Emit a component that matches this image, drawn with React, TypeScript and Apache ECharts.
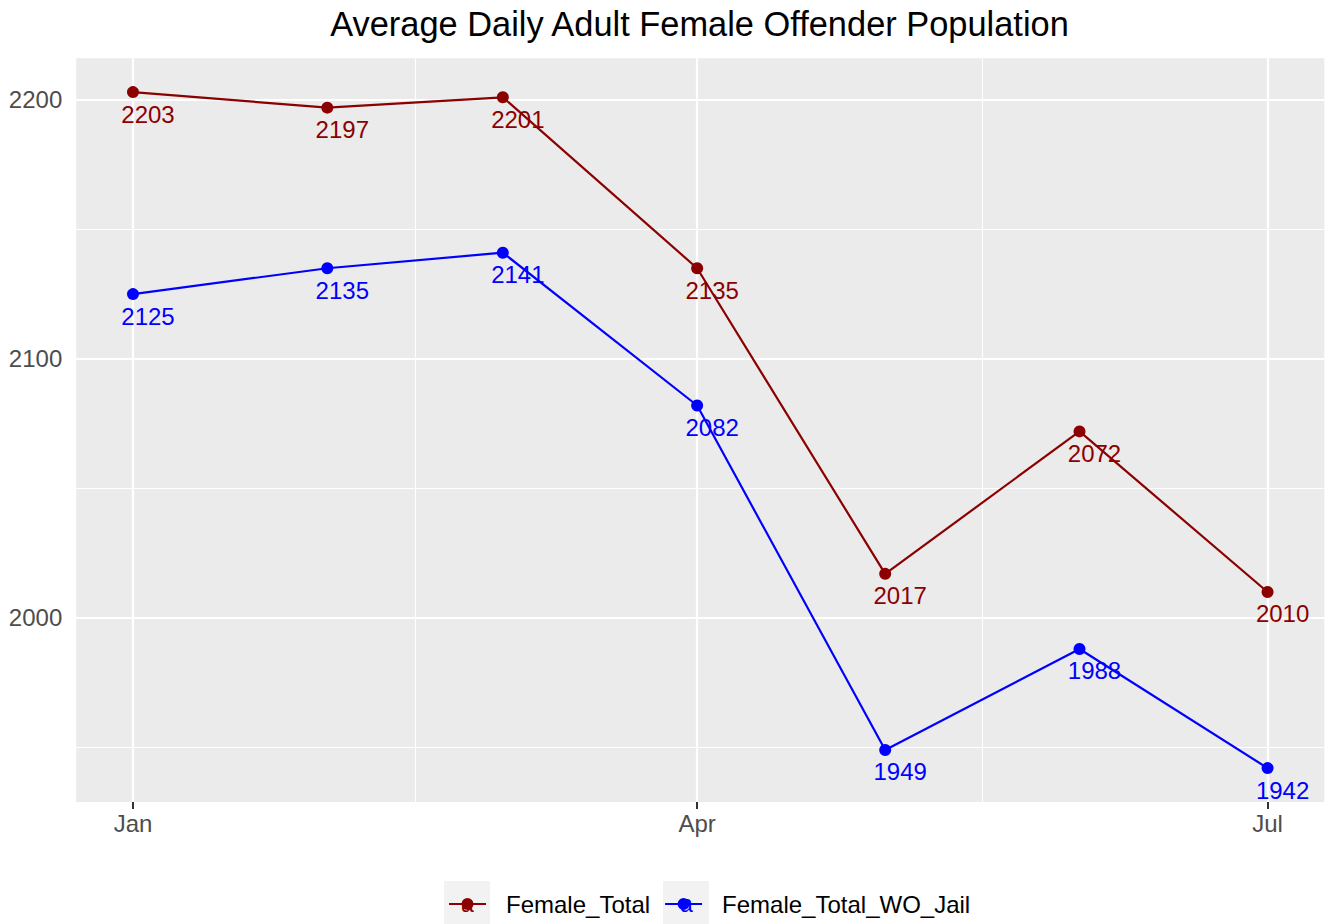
import React, { useEffect, useRef } from "react";
import * as echarts from "echarts";

const months = ["2023-01-01", "2023-02-01", "2023-03-01", "2023-04-01", "2023-05-01", "2023-06-01", "2023-07-01"];
const femaleTotal = [2203, 2197, 2201, 2135, 2017, 2072, 2010];
const femaleTotalWOJail = [2125, 2135, 2141, 2082, 1949, 1988, 1942];
const seriesNames = ["Female_Total", "Female_Total_WO_Jail"];
const seriesColors = ["#8B0000", "#0000FF"];
const xTickDates = ["2023-01-01", "2023-04-01", "2023-07-01"];
const xTickLabels = ["Jan", "Apr", "Jul"];
const yMajor = [2000, 2100, 2200];
const yMinor = [1950, 2050, 2150];

const FONT = "'Liberation Sans', Arial, Helvetica, sans-serif";

const dayOf = (s: string) => {
  const [y, m, d] = s.split("-").map(Number);
  return (Date.UTC(y, m - 1, d) - Date.UTC(2023, 0, 1)) / 864e5;
};

export default function App() {
  const ref = useRef<HTMLDivElement>(null);
  useEffect(() => {
    if (!ref.current) return;
    const chart = echarts.init(ref.current, undefined, { renderer: "svg" });
    const days = months.map(dayOf);
    const xTicks = xTickDates.map(dayOf);
    const xMinor = xTicks.slice(1).map((v, i) => (v + xTicks[i]) / 2);
    const span = days[days.length - 1] - days[0];
    const xMin = days[0] - span * 0.05;
    const xMax = days[days.length - 1] + span * 0.05;
    const allVals = [...femaleTotal, ...femaleTotalWOJail];
    const vMin = Math.min(...allVals);
    const vMax = Math.max(...allVals);
    const yMin = vMin - (vMax - vMin) * 0.05;
    const yMax = vMax + (vMax - vMin) * 0.05;

    const gridLines = [
      ...yMajor.map((v) => ({ yAxis: v, lineStyle: { width: 2.2 } })),
      ...yMinor.map((v) => ({ yAxis: v, lineStyle: { width: 1.1 } })),
      ...xTicks.map((v) => ({ xAxis: v, lineStyle: { width: 2.2 } })),
      ...xMinor.map((v) => ({ xAxis: v, lineStyle: { width: 1.1 } })),
    ];

    const legendIcon =
      "path://M0,0h0.01v0.01h-0.01z M51.99,45.99h0.01v0.01h-0.01z M0,22h37v2h-37z M12.5,23a6,6 0 1,1 12,0a6,6 0 1,1 -12,0z";

    const datasets = [femaleTotal, femaleTotalWOJail];
    const series: any[] = datasets.map((vals, si) => ({
      name: seriesNames[si],
      type: "line",
      data: vals.map((v, i) => [days[i], v]),
      symbol: "circle",
      symbolSize: 12,
      showAllSymbol: true,
      z: 3,
      lineStyle: { color: seriesColors[si], width: 2.2 },
      itemStyle: { color: seriesColors[si], borderWidth: 0 },
      label: {
        show: true,
        position: "inside",
        offset: [15, 22],
        color: seriesColors[si],
        fontSize: 24,
        fontFamily: FONT,
        formatter: (p: any) => String(p.value[1]),
      },
      emphasis: { disabled: true },
      silent: true,
      markLine:
        si === 0
          ? {
              silent: true,
              z: 1,
              symbol: ["none", "none"],
              label: { show: false },
              emphasis: { disabled: true },
              lineStyle: { color: "#FFFFFF", type: "solid", width: 2 },
              data: gridLines,
            }
          : undefined,
    }));

    const keyX = [444, 663];
    const keyCenter = [467.5, 686.5];

    chart.setOption({
      animation: false,
      backgroundColor: "#FFFFFF",
      textStyle: { fontFamily: FONT },
      title: {
        text: "Average Daily Adult Female Offender Population",
        left: 699.5,
        textAlign: "center",
        top: 7,
        padding: 0,
        textStyle: { fontSize: 34.4, fontWeight: "normal", color: "#000000", fontFamily: FONT },
      },
      grid: {
        left: 76.25,
        right: 3.7,
        top: 58.3,
        bottom: 122.1,
        show: true,
        backgroundColor: "#EBEBEB",
        borderWidth: 0,
        containLabel: false,
        outerBoundsMode: "none",
      },
      xAxis: {
        type: "value",
        min: xMin,
        max: xMax,
        axisLine: { show: false },
        splitLine: { show: false },
        axisTick: { show: true, customValues: xTicks, length: 7, lineStyle: { color: "#333333", width: 2 } },
        axisLabel: {
          customValues: xTicks,
          margin: 10,
          fontSize: 24,
          color: "#4D4D4D",
          fontFamily: FONT,
          formatter: (v: number) => {
            const i = xTicks.findIndex((t) => Math.abs(t - v) < 1e-6);
            return i >= 0 ? xTickLabels[i] : "";
          },
        },
      },
      yAxis: {
        type: "value",
        min: yMin,
        max: yMax,
        axisLine: { show: false },
        splitLine: { show: false },
        axisTick: { show: true, customValues: yMajor, length: 7, lineStyle: { color: "#333333", width: 2 } },
        axisLabel: {
          customValues: yMajor,
          margin: 14,
          fontSize: 24,
          color: "#4D4D4D",
          fontFamily: FONT,
          formatter: (v: number) => String(Math.round(v)),
        },
      },
      legend: {
        data: seriesNames.map((n) => ({ name: n, icon: legendIcon })),
        left: 449,
        top: 881,
        padding: 0,
        itemGap: 15,
        itemWidth: 52,
        itemHeight: 46,
        selectedMode: false,
        itemStyle: { borderWidth: 0 },
        textStyle: { fontSize: 24, color: "#000000", fontFamily: FONT },
      },
      graphic: [
        ...keyX.map((x) => ({
          type: "rect",
          z: 0,
          silent: true,
          shape: { x, y: 881, width: 46, height: 46 },
          style: { fill: "#F2F2F2" },
        })),
        ...keyCenter.map((cx, i) => ({
          type: "text",
          z: 10,
          silent: true,
          x: cx,
          y: 904,
          style: {
            text: "a",
            fill: seriesColors[i],
            fontSize: 23,
            fontFamily: FONT,
            textAlign: "center",
            textVerticalAlign: "middle",
          },
        })),
      ],
      series,
    });
    return () => chart.dispose();
  }, []);
  return <div ref={ref} style={{ position: "fixed", left: 0, top: 0, width: 1328, height: 924 }} />;
}
